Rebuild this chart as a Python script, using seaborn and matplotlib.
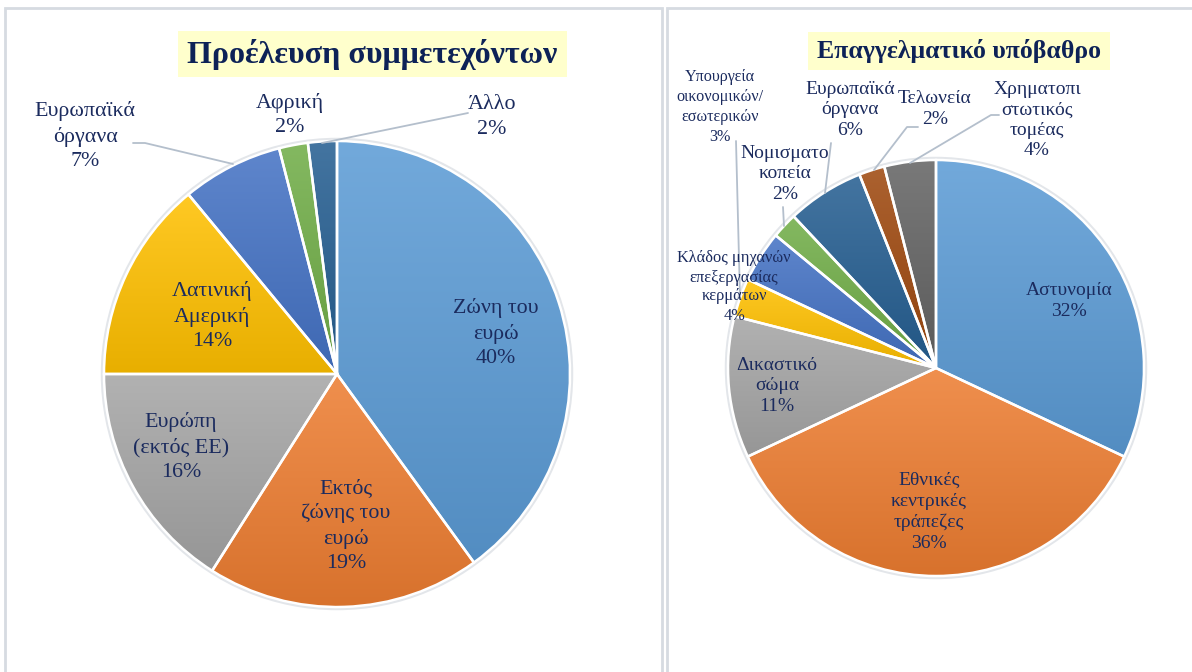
import numpy as np
import matplotlib
matplotlib.use("Agg")
import matplotlib.pyplot as plt
import seaborn as sns
from matplotlib.colors import LinearSegmentedColormap, to_rgb
from matplotlib.patches import Rectangle, Circle

# ---------------- DATA ----------------
ORIGIN_TITLE = "Προέλευση συμμετεχόντων"
ORIGIN_LABELS = ["Ζώνη του\nευρώ", "Εκτός\nζώνης του\nευρώ", "Ευρώπη\n(εκτός ΕΕ)",
                 "Λατινική\nΑμερική", "Ευρωπαϊκά\nόργανα", "Αφρική", "Άλλο"]
ORIGIN_PCT = [40, 19, 16, 14, 7, 2, 2]

BACKGROUND_TITLE = "Επαγγελματικό υπόβαθρο"
BACKGROUND_LABELS = ["Αστυνομία", "Εθνικές\nκεντρικές\nτράπεζες", "Δικαστικό\nσώμα",
                     "Υπουργεία\nοικονομικών/\nεσωτερικών", "Κλάδος μηχανών\nεπεξεργασίας\nκερμάτων",
                     "Νομισματο\nκοπεία", "Ευρωπαϊκά\nόργανα", "Τελωνεία", "Χρηματοπι\nστωτικός\nτομέας"]
BACKGROUND_PCT = [32, 36, 11, 3, 4, 2, 6, 2, 4]

# ---------------- STYLE / LAYOUT (pixels, y down) ----------------
W, H = 1192, 672
TEXT_COLOR = "#1b2b5e"
TITLE_COLOR = "#0d2257"
TITLE_BOX = "#ffffcc"
BORDER = "#d6dbe1"
FONT = "Liberation Serif"
OFFICE = ["#5B9BD5", "#ED7D31", "#A5A5A5", "#FFC000", "#4472C4", "#70AD47",
          "#255E91", "#9E480E", "#636363"]

LEFT_PIE = dict(center=(337, 374), radius=233)
RIGHT_PIE = dict(center=(936, 368), radius=208)

LEFT_LABEL_POS = [(496, 333), (346, 526), (181, 447), (212, 316), (85, 136), (290, 115), (492, 117)]
LEFT_LABEL_SIZE = [15.8] * 7
LEFT_SPACING = [1.38] * 7
LEFT_LEADERS = {4: [(133, 143), (145, 143), (233, 164)],
                6: [(468, 113), (322, 143)]}

RIGHT_LABEL_POS = [(1069, 301), (929, 512), (777, 386), (720, 107), (734, 287),
                   (785, 174), (850, 110), (935, 109), (1037, 120)]
RIGHT_LABEL_SIZE = [14, 14, 14, 11.6, 11.8, 14, 14, 14, 14]
RIGHT_SPACING = [1.25, 1.3, 1.25, 1.33, 1.25, 1.25, 1.25, 1.25, 1.25]
RIGHT_LEADERS = {3: [(736, 141), (740, 298)],
                 5: [(783, 207), (784, 226)],
                 6: [(831, 143), (825, 193)],
                 7: [(918, 127), (907, 127), (874, 170)],
                 8: [(999, 115), (991, 115), (910, 163)]}


def px(x, y):
    return x, H - y


def shade(c, f):
    c = np.array(to_rgb(c))
    return tuple(c + (1 - c) * f) if f > 0 else tuple(c * (1 + f))


def draw_pie(ax, values, labels, geo, label_pos, label_size, spacing, leaders):
    cx, cy = px(*geo["center"])
    r = geo["radius"]
    ax.add_patch(Circle((cx, cy), r + 1.5, facecolor="none", edgecolor="#e3e6ea", lw=2.5, zorder=1))
    wedges, _ = ax.pie(values, colors=OFFICE[:len(values)], startangle=90, counterclock=False,
                       center=(cx, cy), radius=r,
                       wedgeprops=dict(edgecolor="white", linewidth=1.8, zorder=3))
    grad = np.linspace(0, 1, 256).reshape(-1, 1)
    for w, base in zip(wedges, OFFICE):
        ext = w.get_path().get_extents()
        cmap = LinearSegmentedColormap.from_list("g", [shade(base, -0.09), shade(base, 0.14)])
        im = ax.imshow(grad, cmap=cmap, origin="lower", aspect="auto", zorder=2,
                       extent=(ext.x0, ext.x1, ext.y0, ext.y1), interpolation="bilinear")
        im.set_clip_path(w)
        w.set_facecolor("none")
    for i, (lab, v) in enumerate(zip(labels, values)):
        x, y = px(*label_pos[i])
        ax.text(x, y, f"{lab}\n{v}%", ha="center", va="center", fontsize=label_size[i],
                family=FONT, color=TEXT_COLOR, linespacing=spacing[i], zorder=5)
    for pts in leaders.values():
        xs, ys = zip(*[px(*p) for p in pts])
        ax.plot(xs, ys, color="#b4bfcc", lw=1.3, zorder=4)


sns.set_theme(style="white")
plt.rcParams["font.family"] = [FONT, "DejaVu Serif"]

fig = plt.figure(figsize=(W / 100, H / 100), dpi=100)
ax = fig.add_axes([0, 0, 1, 1])

# panel frames
ax.add_patch(Rectangle(px(5, 690), 657, 682, facecolor="none", edgecolor=BORDER, lw=2))
ax.add_patch(Rectangle(px(667, 690), 560, 682, facecolor="none", edgecolor=BORDER, lw=2))

draw_pie(ax, ORIGIN_PCT, ORIGIN_LABELS, LEFT_PIE, LEFT_LABEL_POS, LEFT_LABEL_SIZE,
         LEFT_SPACING, LEFT_LEADERS)
draw_pie(ax, BACKGROUND_PCT, BACKGROUND_LABELS, RIGHT_PIE, RIGHT_LABEL_POS, RIGHT_LABEL_SIZE,
         RIGHT_SPACING, RIGHT_LEADERS)

# titles
ax.add_patch(Rectangle(px(178, 77), 389, 46, facecolor=TITLE_BOX, edgecolor="none", zorder=4))
ax.text(*px(372, 54), ORIGIN_TITLE, ha="center", va="center", fontsize=23, fontweight="bold",
        family=FONT, color=TITLE_COLOR, zorder=5)
ax.add_patch(Rectangle(px(808, 70), 302, 38, facecolor=TITLE_BOX, edgecolor="none", zorder=4))
ax.text(*px(959, 51), BACKGROUND_TITLE, ha="center", va="center", fontsize=18.5, fontweight="bold",
        family=FONT, color=TITLE_COLOR, zorder=5)

ax.set_xlim(0, W)
ax.set_ylim(0, H)
ax.set_aspect("equal")
ax.axis("off")
fig.savefig("out.png", dpi=100)
